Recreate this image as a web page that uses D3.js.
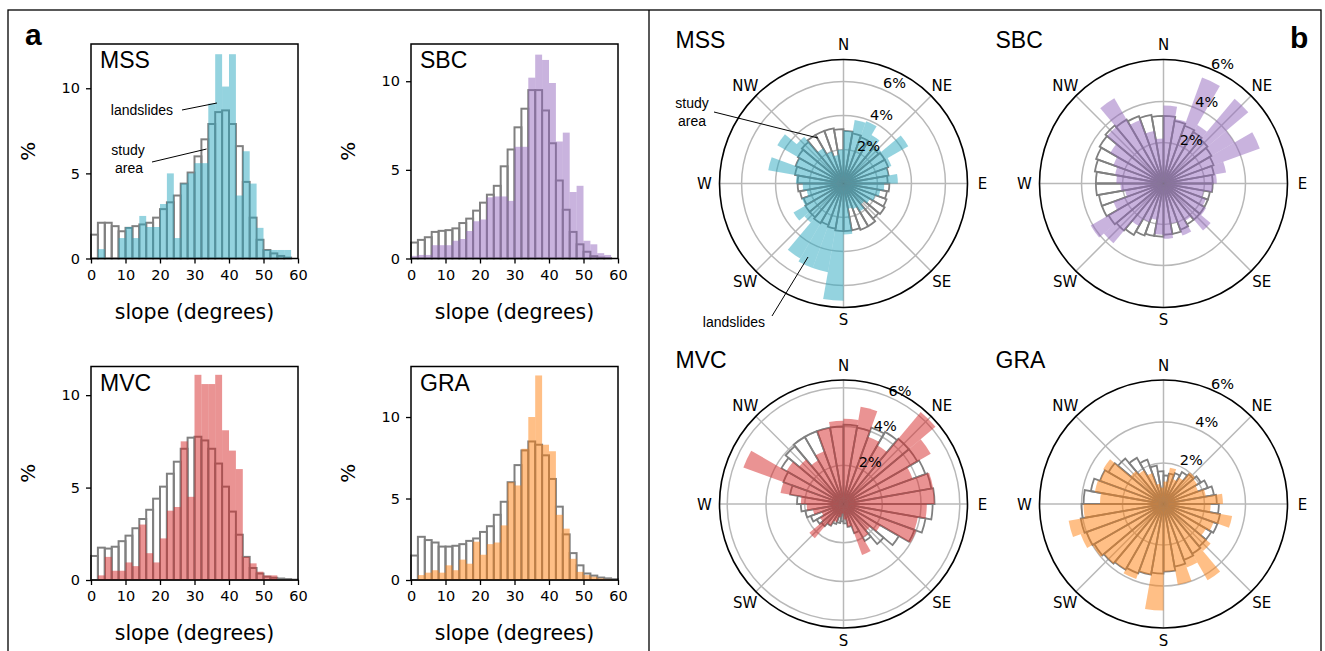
<!DOCTYPE html>
<html>
<head>
<meta charset="utf-8">
<script src="https://cdn.jsdelivr.net/npm/d3@7/dist/d3.min.js"></script>
<style>
  body { margin: 0; background: #fff; }
  text { fill: #000; }
</style>
</head>
<body>
<script>
// ---- slope histograms: % per 2-degree bin, 0..60 ----
const slopeTicks = [0, 10, 20, 30, 40, 50, 60];
const pctTicks = [0, 5, 10];

const mssStudy  = [1.4, 2.1, 2.1, 1.9, 1.6, 1.8, 1.9, 2.0, 2.1, 2.4, 2.9, 3.3, 3.7, 4.4, 5.05, 6.0, 7.0, 7.9, 8.6, 8.7, 7.9, 6.6, 4.5, 2.4, 1.1, 0.5, 0.3, 0.15, 0.05, 0];
const mssSlides = [0, 0.55, 0, 0, 1.2, 1.85, 1.2, 2.5, 1.85, 1.85, 3.2, 5.0, 1.2, 4.4, 5.0, 5.6, 5.6, 9.1, 12.0, 10.1, 12.0, 3.7, 6.3, 4.4, 1.8, 0.5, 0.5, 0.5, 0.5, 0];

const sbcStudy  = [0.9, 1.05, 1.2, 1.5, 1.56, 1.6, 1.7, 2.0, 2.25, 2.7, 3.15, 3.6, 4.1, 5.2, 6.15, 7.4, 8.45, 9.5, 9.5, 8.35, 6.5, 4.4, 2.75, 1.5, 0.8, 0.38, 0.13, 0.05, 0.02, 0];
const sbcSlides = [0.15, 0.2, 0.2, 0.75, 0.75, 0.75, 1.0, 1.1, 1.55, 2.1, 2.2, 3.45, 3.5, 3.5, 3.25, 6.3, 6.3, 10.2, 11.5, 11.2, 9.9, 6.6, 7.1, 3.75, 4.1, 1.0, 0.8, 0.3, 0.2, 0];

const mvcStudy  = [1.3, 1.75, 1.7, 1.8, 2.1, 2.4, 2.8, 3.3, 3.8, 4.4, 5.05, 5.75, 6.4, 7.1, 7.7, 7.75, 7.55, 7.1, 6.3, 5.05, 3.7, 2.45, 1.25, 0.65, 0.35, 0.18, 0.12, 0.08, 0.05, 0.02];
const mvcSlides = [0, 0.25, 1.25, 0.5, 0.5, 0.95, 0.75, 3.0, 1.45, 0.95, 2.25, 3.75, 3.95, 7.5, 4.5, 11.1, 10.6, 10.6, 11.1, 8.1, 7.0, 6.0, 1.25, 0.9, 0.45, 0.25, 0.25, 0, 0, 0];

const graStudy  = [1.5, 2.65, 2.45, 2.3, 2.05, 2.05, 2.1, 2.2, 2.4, 2.55, 2.95, 3.3, 4.0, 4.8, 6.0, 7.05, 7.95, 8.5, 8.3, 7.65, 6.2, 4.5, 2.8, 1.65, 0.9, 0.4, 0.27, 0.15, 0.1, 0.05];
const graSlides = [0, 0.3, 0.45, 0.6, 0.45, 0.9, 0.6, 1.25, 1.0, 2.35, 1.55, 2.2, 2.3, 3.35, 6.0, 5.8, 8.05, 10.0, 12.55, 8.3, 7.9, 4.0, 3.15, 1.3, 0.5, 0.3, 0.2, 0.1, 0.05, 0];

// ---- aspect roses: % per 10-degree bin, clockwise from N ----
const compass = ["N", "NE", "E", "SE", "S", "SW", "W", "NW"];
const ringTicks = [2, 4, 6];

const mssRoseStudy  = [3.1, 3.0, 2.9, 2.8, 2.7, 2.8, 2.8, 2.7, 2.6, 2.7, 2.6, 2.7, 2.8, 2.7, 2.9, 2.9, 2.8, 2.8, 2.8, 2.7, 2.6, 2.7, 2.6, 2.6, 2.5, 2.6, 2.7, 2.7, 2.9, 3.0, 3.1, 3.2, 3.3, 3.3, 3.3, 3.2];
const mssRoseSlides = [3.1, 3.8, 3.9, 3.3, 2.9, 4.4, 3.0, 2.7, 3.2, 2.4, 2.2, 2.0, 1.8, 1.6, 1.9, 1.6, 1.5, 3.0, 6.9, 5.3, 5.3, 5.1, 3.0, 3.4, 2.6, 2.2, 2.4, 2.8, 4.5, 3.0, 4.5, 3.6, 2.4, 2.0, 1.7, 2.0];

const sbcRoseStudy  = [3.3, 3.1, 3.0, 2.9, 2.8, 2.7, 2.6, 2.5, 2.4, 2.4, 2.3, 2.3, 2.3, 2.3, 2.3, 2.4, 2.5, 2.5, 2.6, 2.6, 2.7, 2.9, 3.0, 3.1, 3.2, 3.2, 3.3, 3.3, 3.4, 3.5, 3.6, 3.7, 3.6, 3.5, 3.4, 3.3];
const sbcRoseSlides = [3.8, 3.2, 5.5, 3.3, 5.4, 4.0, 5.0, 3.1, 2.6, 2.4, 2.0, 2.2, 2.4, 3.0, 2.1, 2.7, 2.0, 2.7, 2.5, 1.8, 2.0, 2.4, 3.8, 4.1, 2.6, 1.9, 2.1, 2.3, 2.4, 2.6, 3.0, 3.6, 4.8, 3.3, 2.6, 2.2];

const mvcRoseStudy  = [4.1, 4.0, 4.2, 4.3, 4.4, 4.4, 4.5, 4.6, 4.7, 4.6, 4.3, 3.9, 3.3, 2.7, 2.2, 1.6, 1.2, 1.0, 0.9, 1.0, 1.1, 1.3, 1.5, 1.6, 1.8, 2.0, 2.2, 2.4, 2.8, 3.3, 3.7, 3.9, 4.0, 4.0, 4.0, 4.0];
const mvcRoseSlides = [4.4, 5.1, 3.7, 3.5, 6.2, 5.2, 3.8, 4.7, 4.7, 4.3, 3.9, 4.0, 2.2, 1.8, 2.0, 2.8, 1.2, 0.8, 0.5, 0.7, 1.0, 1.3, 2.3, 1.4, 1.2, 1.6, 1.9, 2.2, 3.3, 5.5, 3.4, 3.0, 2.6, 2.9, 4.0, 4.3];

const graRoseStudy  = [1.4, 1.5, 1.6, 1.8, 1.9, 2.1, 2.3, 2.5, 2.6, 2.7, 2.8, 2.8, 2.7, 2.7, 2.8, 2.9, 3.1, 3.3, 3.4, 3.5, 3.6, 3.7, 3.8, 3.9, 4.0, 4.1, 4.0, 3.9, 3.6, 3.3, 3.1, 2.9, 2.6, 2.3, 1.9, 1.6];
const graRoseSlides = [1.1, 1.8, 1.3, 1.5, 2.0, 1.9, 1.8, 2.1, 2.9, 2.3, 3.4, 2.6, 2.4, 3.0, 4.3, 3.3, 4.0, 3.3, 5.2, 3.5, 3.9, 3.7, 3.8, 4.0, 4.3, 4.7, 3.9, 3.1, 3.4, 3.3, 3.4, 2.1, 1.9, 1.6, 1.0, 0.8];

const grey = "#808080";
const dejavu = "DejaVu Sans, sans-serif";
const arial = "Liberation Sans, Arial, sans-serif";

const svg = d3.select("body").append("svg")
  .attr("width", 1325).attr("height", 651);

// outer frame and divider
svg.append("rect").attr("x", 8).attr("y", 10).attr("width", 1313).attr("height", 660)
  .attr("fill", "none").attr("stroke", "#000").attr("stroke-width", 1.3);
svg.append("line").attr("x1", 649).attr("x2", 649).attr("y1", 10).attr("y2", 651)
  .attr("stroke", "#000").attr("stroke-width", 1.3);

svg.append("text").attr("x", 25).attr("y", 45).text("a")
  .style("font-family", arial).style("font-weight", "bold").style("font-size", "30px");
svg.append("text").attr("x", 1290).attr("y", 48).text("b")
  .style("font-family", arial).style("font-weight", "bold").style("font-size", "30px");

// ---------- histograms ----------
function histogram(p) {
  const x = d3.scaleLinear().domain([0, 60]).range([p.left, p.right]);
  const y = d3.scaleLinear().domain([0, p.ymax]).range([p.bottom, p.top]);
  const g = svg.append("g");
  const bw = x(2) - x(0);

  g.selectAll("rect.study").data(p.study).join("rect")
    .attr("class", "study")
    .attr("x", (d, i) => x(i * 2)).attr("width", bw)
    .attr("y", d => y(d)).attr("height", d => y(0) - y(d))
    .attr("fill", "none").attr("stroke", grey).attr("stroke-width", 2);

  g.selectAll("rect.slide").data(p.slides).join("rect")
    .attr("class", "slide")
    .attr("x", (d, i) => x(i * 2)).attr("width", bw)
    .attr("y", d => y(d)).attr("height", d => y(0) - y(d))
    .attr("fill", p.color).attr("fill-opacity", 0.5);

  const xa = g.append("g").attr("transform", `translate(0,${p.bottom})`)
    .call(d3.axisBottom(x).tickValues(slopeTicks).tickSize(5).tickPadding(6));
  const ya = g.append("g").attr("transform", `translate(${p.left},0)`)
    .call(d3.axisLeft(y).tickValues(pctTicks).tickSize(5).tickPadding(6));
  [xa, ya].forEach(a => {
    a.select(".domain").remove();
    a.selectAll(".tick line").attr("stroke", "#000").attr("stroke-width", 1.3);
    a.selectAll(".tick text").style("font-family", dejavu).style("font-size", "14.5px").attr("fill", "#000");
  });

  g.append("rect").attr("x", p.left).attr("y", p.top)
    .attr("width", p.right - p.left).attr("height", p.bottom - p.top)
    .attr("fill", "none").attr("stroke", "#000").attr("stroke-width", 1.5);

  g.append("text").attr("x", p.left + 9).attr("y", p.top + 24).text(p.name)
    .style("font-family", arial).style("font-size", "23px");

  g.append("text").attr("x", (p.left + p.right) / 2).attr("y", p.bottom + 60)
    .attr("text-anchor", "middle").text("slope (degrees)")
    .style("font-family", dejavu).style("font-size", "20.5px");

  g.append("text").attr("transform", `translate(${p.left - 56},${(p.top + p.bottom) / 2}) rotate(-90)`)
    .attr("text-anchor", "middle").text("%")
    .style("font-family", dejavu).style("font-size", "20px");
  return { x, y, g };
}

const hMSS = histogram({ name: "MSS", study: mssStudy, slides: mssSlides, color: "#2aa8c0",
  left: 91, right: 298, top: 44, bottom: 258.5, ymax: 12.6 });
histogram({ name: "SBC", study: sbcStudy, slides: sbcSlides, color: "#9467bd",
  left: 411, right: 618, top: 44, bottom: 258.5, ymax: 12.1 });
histogram({ name: "MVC", study: mvcStudy, slides: mvcSlides, color: "#d62728",
  left: 91, right: 298, top: 366.5, bottom: 580, ymax: 11.55 });
histogram({ name: "GRA", study: graStudy, slides: graSlides, color: "#ff7f0e",
  left: 411, right: 618, top: 366.5, bottom: 580, ymax: 13.1 });

// annotations on MSS histogram
const ann = hMSS.g;
ann.append("text").attr("x", 142).attr("y", 115).attr("text-anchor", "middle").text("landslides")
  .style("font-family", arial).style("font-size", "14px");
ann.append("line").attr("x1", 182).attr("y1", 110).attr("x2", hMSS.x(36.5)).attr("y2", 103)
  .attr("stroke", "#000").attr("stroke-width", 1);
ann.append("text").attr("x", 128).attr("y", 155).attr("text-anchor", "middle").text("study")
  .style("font-family", arial).style("font-size", "14px");
ann.append("text").attr("x", 129).attr("y", 173).attr("text-anchor", "middle").text("area")
  .style("font-family", arial).style("font-size", "14px");
ann.append("line").attr("x1", 152).attr("y1", 162).attr("x2", hMSS.x(33.5)).attr("y2", 149)
  .attr("stroke", "#000").attr("stroke-width", 1);

// ---------- roses ----------
const R = 124;
const deg = Math.PI / 180;

function rose(p) {
  const r = d3.scaleLinear().domain([0, p.rmax]).range([0, R]);
  const g = svg.append("g").attr("transform", `translate(${p.cx},${p.cy})`);

  g.selectAll("circle.ring").data(ringTicks.filter(v => r(v) < R - 2)).join("circle")
    .attr("r", d => r(d)).attr("fill", "none").attr("stroke", "#b8b8b8").attr("stroke-width", 1.5);
  g.selectAll("line.spoke").data(d3.range(8)).join("line")
    .attr("x1", 0).attr("y1", 0)
    .attr("x2", k => R * Math.sin(k * 45 * deg)).attr("y2", k => -R * Math.cos(k * 45 * deg))
    .attr("stroke", "#b8b8b8").attr("stroke-width", 1.5);

  const arc = d3.arc().innerRadius(0)
    .outerRadius(d => r(d.v))
    .startAngle(d => d.i * 10 * deg).endAngle(d => (d.i + 1) * 10 * deg);

  g.selectAll("path.study").data(p.study.map((v, i) => ({ v, i }))).join("path")
    .attr("d", arc).attr("fill", "none").attr("stroke", grey).attr("stroke-width", 1.8);
  g.selectAll("path.slide").data(p.slides.map((v, i) => ({ v, i }))).join("path")
    .attr("d", arc).attr("fill", p.color).attr("fill-opacity", 0.5);

  g.append("circle").attr("r", R).attr("fill", "none").attr("stroke", "#000").attr("stroke-width", 1.6);

  // compass labels; the south one sits a little closer so it stays inside the page
  const lr = k => (k === 4 ? R + 12 : R + 15);
  g.selectAll("text.dir").data(compass).join("text")
    .attr("x", (d, k) => lr(k) * Math.sin(k * 45 * deg))
    .attr("y", (d, k) => -lr(k) * Math.cos(k * 45 * deg) + 5.5)
    .attr("text-anchor", "middle").text(d => d)
    .style("font-family", dejavu).style("font-size", "15px");

  g.selectAll("text.rl").data(ringTicks).join("text")
    .attr("x", d => r(d) * Math.sin(22.5 * deg) + 0.5)
    .attr("y", d => -r(d) * Math.cos(22.5 * deg) - 1)
    .text(d => d + "%")
    .style("font-family", dejavu).style("font-size", "14.5px");

  svg.append("text").attr("x", p.cx - 168).attr("y", p.cy - 136).text(p.name)
    .style("font-family", arial).style("font-size", "23px");
  return { r, g };
}

rose({ name: "MSS", study: mssRoseStudy, slides: mssRoseSlides, color: "#2aa8c0",
  cx: 843.5, cy: 183.5, rmax: 7.3 });
rose({ name: "SBC", study: sbcRoseStudy, slides: sbcRoseSlides, color: "#9467bd",
  cx: 1163.5, cy: 183.5, rmax: 6.05 });
rose({ name: "MVC", study: mvcRoseStudy, slides: mvcRoseSlides, color: "#d62728",
  cx: 843.5, cy: 504, rmax: 6.4 });
rose({ name: "GRA", study: graRoseStudy, slides: graRoseSlides, color: "#ff7f0e",
  cx: 1163.5, cy: 504, rmax: 6.05 });

// annotations on MSS rose
const ra = svg.append("g");
ra.append("text").attr("x", 692).attr("y", 108).attr("text-anchor", "middle").text("study")
  .style("font-family", arial).style("font-size", "14px");
ra.append("text").attr("x", 692).attr("y", 126).attr("text-anchor", "middle").text("area")
  .style("font-family", arial).style("font-size", "14px");
ra.append("line").attr("x1", 714).attr("y1", 112).attr("x2", 818).attr("y2", 138)
  .attr("stroke", "#000").attr("stroke-width", 1);
ra.append("text").attr("x", 734).attr("y", 327).attr("text-anchor", "middle").text("landslides")
  .style("font-family", arial).style("font-size", "14px");
ra.append("line").attr("x1", 772).attr("y1", 316).attr("x2", 808).attr("y2", 257)
  .attr("stroke", "#000").attr("stroke-width", 1);
</script>
</body>
</html>
